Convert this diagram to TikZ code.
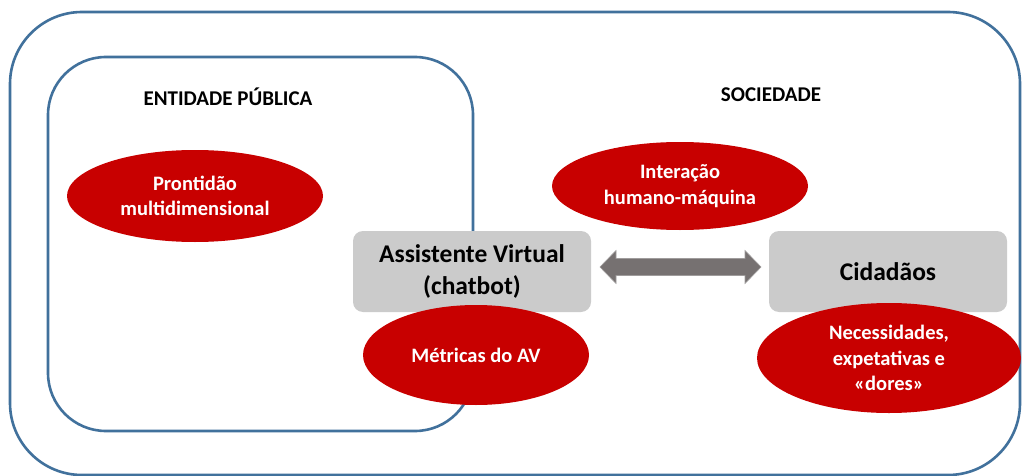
\documentclass[tikz,border=0pt]{standalone}
\usepackage{fontspec}
\setmainfont{Carlito}
\usetikzlibrary{shapes.geometric}
\definecolor{frameblue}{HTML}{41719C}
\definecolor{ovalred}{HTML}{C80000}
\definecolor{boxgray}{HTML}{CBCBCB}
\definecolor{arrowgray}{HTML}{767171}
\tikzset{
  frame/.style={draw=frameblue, line width=2.6pt},
  oval/.style={ellipse, fill=ovalred, text=white, inner sep=0pt, align=center,
    font=\bfseries\fontsize{20.5}{25.5}\selectfont},
  graybox/.style={fill=boxgray, rounded corners=10pt, inner sep=0pt, align=center,
    minimum width=238pt, minimum height=81pt, font=\bfseries\fontsize{25.5}{32}\selectfont},
  title/.style={font=\bfseries\fontsize{21}{24}\selectfont, text=black}
}
\begin{document}
\begin{tikzpicture}[x=1pt,y=-1pt]
\useasboundingbox (0,0) rectangle (1022,476);
\fill[white] (0,0) rectangle (1022,476);
% frames
\draw[frame, rounded corners=72pt] (10,12) rectangle (1020,475);
\draw[frame, rounded corners=58pt] (48,57) rectangle (473,431);
% titles
\node[title] (ent) at (228,97) {ENTIDADE PÚBLICA};
\node[title] (soc) at (771,95) {SOCIEDADE};
% gray boxes
\node[graybox] (av) at (472,271.5) {Assistente Virtual\\(chatbot)};
\node[graybox] (cid) at (888,271.5) {Cidadãos};
% ovals
\node[oval, minimum width=256pt, minimum height=92pt] (pron) at (195,196) {Prontidão\\multidimensional};
\node[oval, minimum width=256pt, minimum height=88pt] (inter) at (680,186) {Interação\\humano-máquina};
\node[oval, minimum width=226pt, minimum height=100pt] (metr) at (476,355) {Métricas do AV};
\node[oval, minimum width=264pt, minimum height=110pt] (nec) at (889,358) {Necessidades,\\expetativas e\\«dores»};
% double arrow
\coordinate (aL) at (600,267);
\coordinate (aR) at (761,267);
\fill[arrowgray, draw=arrowgray!70!white, line width=0.6pt]
  (aL) -- ++(16,-16.5) -- ++(0,8) -- (745,258.5) -- ++(0,-8) -- (aR)
  -- (745,283.5) -- ++(0,-8) -- (616,275.5) -- ++(0,8) -- cycle;
\end{tikzpicture}
\end{document}
